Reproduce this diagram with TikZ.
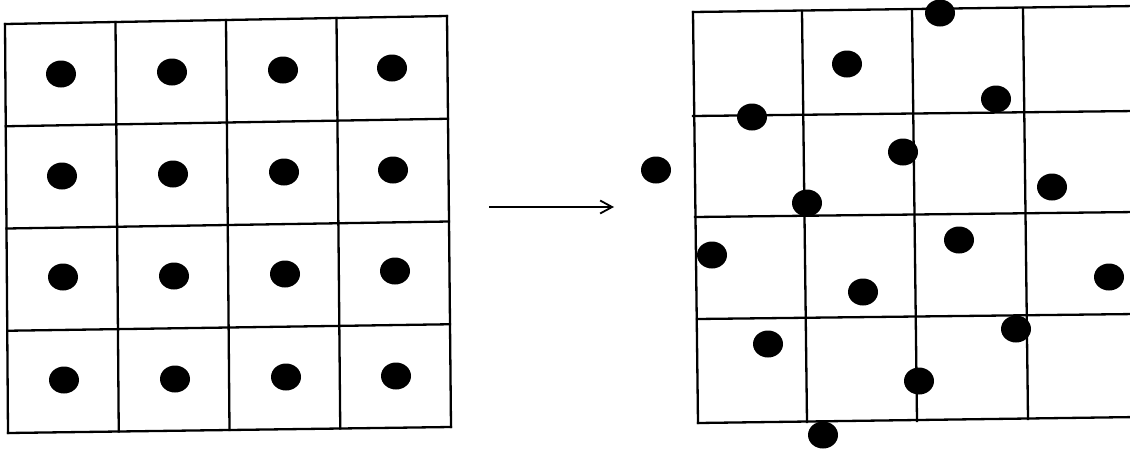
\documentclass[tikz,border=0pt]{standalone}
\usetikzlibrary{shapes.geometric,arrows.meta,calc}
\tikzset{
  gridline/.style={line width=2.3pt, black, line cap=rect},
  dot/.style={ellipse, fill=black, inner sep=0pt, minimum width=30pt, minimum height=27pt},
  flow/.style={line width=1.8pt, -{Straight Barb[length=12pt,width=13pt,line width=1.8pt]}}
}
\begin{document}
\begin{tikzpicture}[x=1pt,y=-1pt]
\useasboundingbox (0,0) rectangle (1130,450);
\clip (0,0) rectangle (1130,450);
\fill[white] (0,0) rectangle (1130,450);

% ---- regular lattice: 4x4 cells, one point in each centre ----
\coordinate (LTL) at (5,24);
\coordinate (LTR) at (447,16);
\coordinate (LBR) at (451,427);
\coordinate (LBL) at (8,433);
\foreach \t in {0,0.25,0.5,0.75,1}{
  \draw[gridline] ($(LTL)!\t!(LBL)$) -- ($(LTR)!\t!(LBR)$);
  \draw[gridline] ($(LTL)!\t!(LTR)$) -- ($(LBL)!\t!(LBR)$);
}
\foreach \name/\x/\y in {
  a11/61/74,  a12/172/72,  a13/283/70,  a14/392/68,
  a21/62/176, a22/173/174, a23/284/172, a24/393/170,
  a31/63/277, a32/174/276, a33/285/274, a34/395/271,
  a41/64/380, a42/175/379, a43/286/377, a44/396/376}
  \node[dot] (\name) at (\x,\y) {};

% ---- mapping arrow ----
\coordinate (arrowstart) at (489,207);
\coordinate (arrowend) at (614,207);
\draw[flow] (arrowstart) -- (arrowend);

% ---- perturbed lattice: same grid, points displaced ----
\draw[gridline] (693,12) -- (1136,6);
\draw[gridline] (693,116) -- (1136,111);
\draw[gridline] (695,217) -- (1136,212);
\draw[gridline] (697,319) -- (1136,314);
\draw[gridline] (698,423) -- (1138,417);
\draw[gridline] (693,12) -- (698,423);
\draw[gridline] (802,11) -- (807,422);
\draw[gridline] (912,10) -- (917,421);
\draw[gridline] (1023,8) -- (1028,419);
\draw[gridline] (1134,6) -- (1138,417);
\foreach \name/\x/\y in {
  b01/940/13,  b02/847/64,  b03/996/99,  b04/752/117,
  b05/903/152, b06/656/170, b07/1052/187, b08/807/203,
  b09/712/255, b10/959/240, b11/1109/277, b12/863/292,
  b13/1016/329, b14/768/344, b15/919/381, b16/823/435}
  \node[dot] (\name) at (\x,\y) {};
\end{tikzpicture}
\end{document}
